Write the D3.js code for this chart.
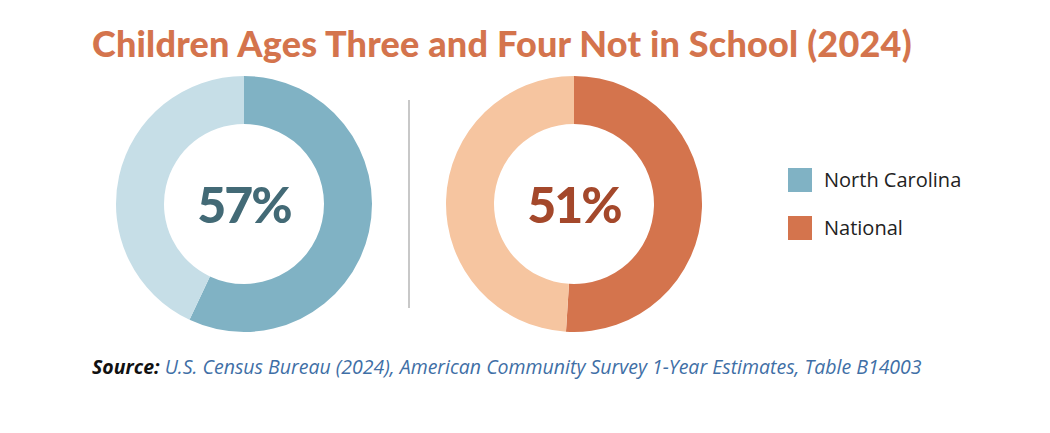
<!DOCTYPE html>
<html><head><meta charset="utf-8">
<script src="https://cdn.jsdelivr.net/npm/d3@7"></script>
<style>body{margin:0;background:#fff}</style>
</head><body>
<svg id="chart" width="1050" height="433"></svg>
<script>
var regions = ["North Carolina", "National"];
var values = [57, 51];
var darkColors = ["#80b2c4", "#d4744d"];
var lightColors = ["#c6dee7", "#f6c5a0"];
var labelColors = ["#436a76", "#a4482b"];

var svg = d3.select("#chart");

svg.append("text")
	.attr("x", 92).attr("y", 57)
	.attr("font-family", "Lato, sans-serif").attr("font-weight", 900)
	.attr("font-size", 36).attr("fill", "#d4744d").attr("letter-spacing", 0.2)
	.text("Children Ages Three and Four Not in School (2024)");

var cx = d3.scaleOrdinal().domain(regions).range([244, 574]);
var pie = d3.pie().sort(null);
var arc = d3.arc().innerRadius(80).outerRadius(128);

regions.forEach(function(r, i) {
	var g = svg.append("g").attr("transform", "translate(" + cx(r) + ",204)");
	g.selectAll("path")
		.data(pie([values[i], 100 - values[i]]))
		.enter().append("path")
		.attr("d", arc)
		.attr("fill", function(d, j) { return j == 0 ? darkColors[i] : lightColors[i]; });
	g.append("text")
		.attr("text-anchor", "middle").attr("y", 19)
		.attr("font-family", "Lato, sans-serif").attr("font-weight", 900)
		.attr("font-size", 50).attr("fill", labelColors[i])
		.attr("letter-spacing", -2)
		.text(values[i] + "%");
});

// divider
svg.append("line")
	.attr("x1", 409).attr("x2", 409).attr("y1", 100).attr("y2", 308)
	.attr("stroke", "#c8c8c8").attr("stroke-width", 2);

// legend
var ly = d3.scaleOrdinal().domain(regions).range([168, 216]);
regions.forEach(function(r, i) {
	svg.append("rect").attr("x", 788).attr("y", ly(r)).attr("width", 24).attr("height", 24)
		.attr("fill", darkColors[i]);
	svg.append("text").attr("x", 824).attr("y", ly(r) + 19)
		.attr("font-family", "'Open Sans', sans-serif").attr("font-size", 20)
		.attr("fill", "#222").text(r);
});

var src = svg.append("text").attr("x", 92).attr("y", 374)
	.attr("font-family", "'Open Sans', sans-serif").attr("font-size", 19.5)
	.attr("font-style", "italic");
src.append("tspan").attr("font-weight", 700).attr("fill", "#111").text("Source:");
src.append("tspan").attr("fill", "#3f6fa6")
	.text(" U.S. Census Bureau (2024), American Community Survey 1-Year Estimates, Table B14003");
</script>
</body></html>
